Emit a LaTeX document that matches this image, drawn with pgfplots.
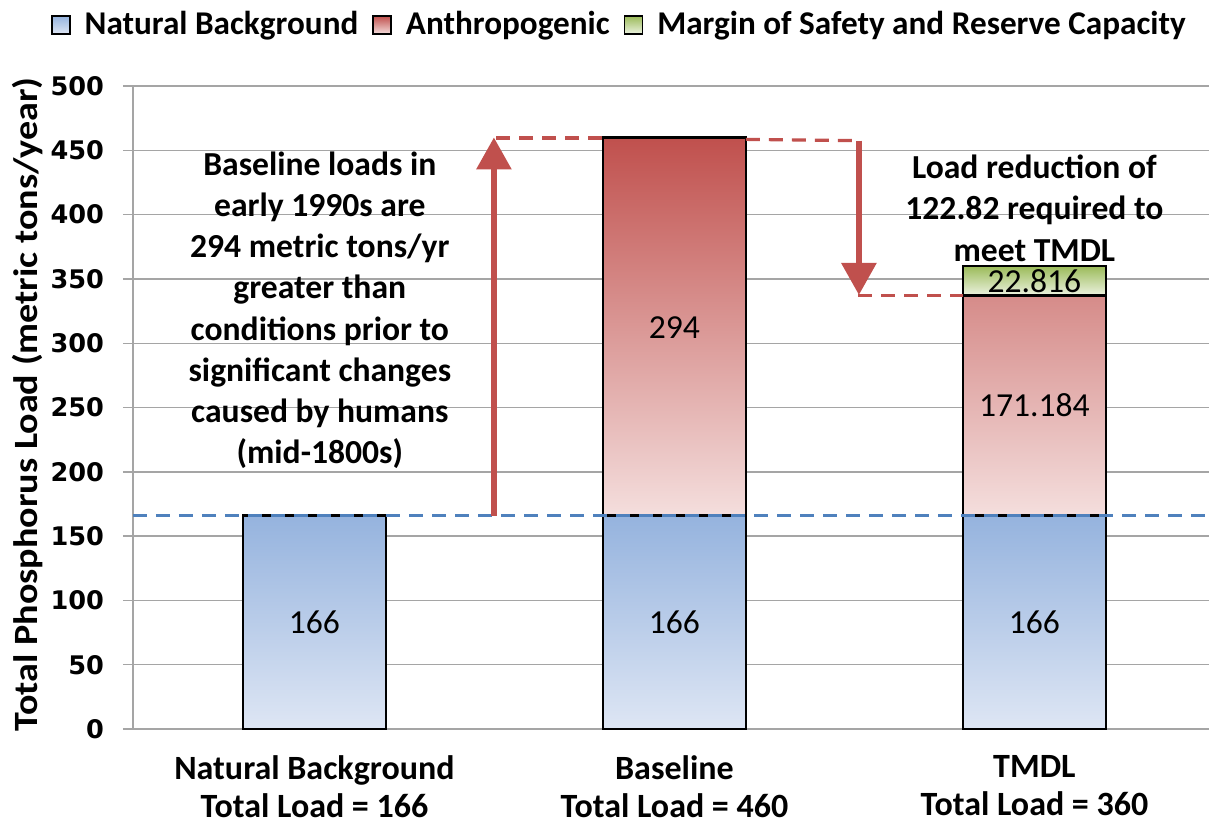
\documentclass[border=0pt]{standalone}
\usepackage{fontspec}
\setmainfont{Carlito}
\newfontfamily\tickfont{DejaVu Sans}
\usepackage{graphicx}
\usepackage{pgfplots}
\pgfplotsset{compat=1.18}
\usetikzlibrary{arrows.meta}
\definecolor{blueT}{RGB}{149,179,222}
\definecolor{blueB}{RGB}{222,230,244}
\definecolor{redT}{RGB}{192,80,77}
\definecolor{redB}{RGB}{244,222,221}
\definecolor{greenT}{RGB}{155,187,89}
\definecolor{greenB}{RGB}{236,242,224}
\definecolor{arrowred}{RGB}{192,80,77}
\definecolor{dashblue}{RGB}{79,129,189}
\definecolor{gridgray}{RGB}{165,165,165}
\tikzset{datalbl/.style={font=\fontsize{16.8bp}{16.8bp}\selectfont, inner sep=1bp},
  annot/.style={align=center, inner sep=0pt, font=\bfseries\fontsize{16.8bp}{20.6bp}\selectfont},
  dashred/.style={arrowred, line width=1.6bp, dash pattern=on 7bp off 4.5bp}}
\begin{document}
\begin{tikzpicture}
\useasboundingbox (-66.5bp,-48.5bp) rectangle (538bp,364.5bp);
\begin{axis}[
  scale only axis, width=538bp, height=321.5bp,
  xmin=-0.504, xmax=2.485, ymin=0, ymax=500,
  ybar stacked, bar width=0.397,
  clip=false,
  axis lines*=left,
  axis line style={gridgray, line width=0.7bp},
  ytick={0,50,...,500},
  ymajorgrids, grid style={gridgray, line width=0.7bp},
  y tick style={gridgray, line width=0.7bp},
  tick align=outside, major tick length=5bp,
  /pgf/number format/assume math mode=true,
  yticklabel style={font=\tickfont\bfseries\fontsize{12.8bp}{12.8bp}\selectfont, xshift=-6bp},
  xtick={0,1,2},
  xticklabels={{Natural Background\\Total Load = 166},{Baseline\\Total Load = 460},{TMDL\\Total Load = 360}},
  xticklabel style={align=center, font=\bfseries\fontsize{17bp}{19bp}\selectfont, inner sep=0pt, yshift=-8bp},
  x tick style={draw=none},
  extra x ticks={-0.5,0.5,1.5},
  extra x tick labels={},
  extra x tick style={grid=none, tick style={draw=gridgray, line width=0.7bp}},
  ylabel={\scalebox{1.12}[1]{Total Phosphorus Load (metric tons/year)}},
  ylabel style={at={(axis description cs:-0.0976,0.505)}, anchor=center, font=\bfseries\fontsize{17bp}{17bp}\selectfont},
  legend columns=-1,
  legend style={draw=none, fill=none, at={(0.453,1.0964)}, anchor=center,
    font=\bfseries\fontsize{16.6bp}{16.6bp}\selectfont,
    inner sep=0pt,
    /tikz/every even column/.append style={column sep=5bp},
    /tikz/every odd column/.append style={column sep=5bp}},
  legend image code/.code={\draw[#1, line width=0.8bp] (0bp,-5bp) rectangle (9bp,4bp);},
  after end axis/.code={
    \draw[dashblue, line width=1.6bp, dash pattern=on 7bp off 4.5bp] (axis cs:-0.504,166) -- (axis cs:2.485,166);
    \draw[dashred] (axis cs:0.505,459.5) -- (axis cs:0.8015,459.5);
    \draw[dashred] (axis cs:1.1985,458.5) -- (axis cs:1.515,457.5);
    \draw[dashred] (axis cs:1.51,337.2) -- (axis cs:1.8015,337.2);
    \draw[arrowred, line width=3bp, -{Triangle[width=17bp,length=16bp]}] (axis cs:0.4986,166) -- (axis cs:0.4986,460);
    \draw[arrowred, line width=3bp, -{Triangle[width=17bp,length=16bp]}] (axis cs:1.5125,457.5) -- (axis cs:1.5125,337.5);
    \node[datalbl] at (axis cs:0,83) {166};
    \node[datalbl] at (axis cs:1,83) {166};
    \node[datalbl] at (axis cs:2,83) {166};
    \node[datalbl] at (axis cs:1,312) {294};
    \node[datalbl] at (axis cs:2,251.6) {171.184};
    \node[datalbl] at (axis cs:2,348.6) {22.816};
    \node[annot] at (axis cs:0.015,325.6) {Baseline loads in\\early 1990s are\\294 metric tons/yr\\greater than\\conditions prior to\\significant changes\\caused by humans\\(mid-1800s)};
    \node[annot] at (axis cs:2.0,405) {Load reduction of\\122.82 required to\\meet TMDL};
  },
]
\addplot[draw=black, line width=1.3bp, top color=blueT, bottom color=blueB] coordinates {(0,166) (1,166) (2,166)};
\addlegendentry{Natural Background}
\addplot[draw=black, line width=1.3bp, top color=redT, bottom color=redB] coordinates {(0,0) (1,294) (2,171.184)};
\addlegendentry{Anthropogenic}
\addplot[draw=black, line width=1.3bp, top color=greenT, bottom color=greenB] coordinates {(0,0) (1,0) (2,22.816)};
\addlegendentry{Margin of Safety and Reserve Capacity}
\end{axis}
\end{tikzpicture}
\end{document}
